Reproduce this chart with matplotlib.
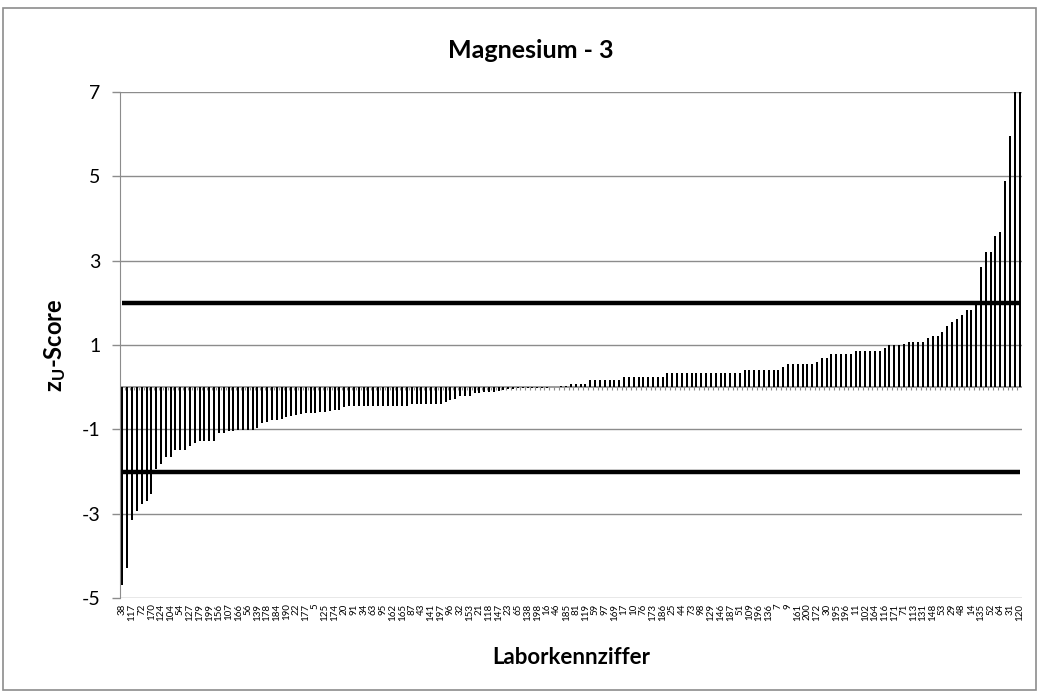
import numpy as np
import matplotlib
matplotlib.use("Agg")
import matplotlib.pyplot as plt
from matplotlib.patches import Rectangle

plt.rcParams['font.family'] = ['Lato', 'DejaVu Sans']
plt.rcParams['mathtext.fontset'] = 'custom'
plt.rcParams['mathtext.bf'] = 'Lato:bold'
plt.rcParams['mathtext.rm'] = 'Lato:bold'
plt.rcParams['mathtext.it'] = 'Lato:bold'
plt.rcParams['mathtext.default'] = 'bf'

# Laborkennziffern (nur jede zweite ist beschriftet)
shown_labels = [
    "38", "117", "72", "170", "124", "104", "54", "127", "179", "199",
    "156", "107", "166", "56", "139", "178", "184", "190", "22", "177",
    "5", "125", "174", "20", "91", "34", "63", "95", "162", "165",
    "87", "43", "141", "197", "96", "32", "153", "21", "118", "147",
    "23", "65", "138", "198", "16", "46", "185", "81", "119", "59",
    "97", "169", "17", "10", "76", "173", "186", "25", "44", "73",
    "98", "129", "146", "187", "51", "109", "196", "136", "7", "9",
    "161", "200", "172", "30", "195", "196", "11", "102", "164", "116",
    "171", "71", "113", "131", "148", "53", "29", "48", "14", "135",
    "52", "64", "31", "120",
]

# z_U-Scores, sortiert
z_scores = [
    -4.68, -4.29, -3.16, -2.93, -2.77, -2.69, -2.53, -1.95, -1.82, -1.65,
    -1.65, -1.50, -1.50, -1.48, -1.40, -1.32, -1.27, -1.27, -1.27, -1.27,
    -1.09, -1.09, -1.05, -1.04, -1.02, -1.02, -1.02, -1.01, -0.97, -0.85,
    -0.83, -0.79, -0.77, -0.75, -0.71, -0.69, -0.67, -0.63, -0.61, -0.61,
    -0.61, -0.59, -0.59, -0.57, -0.55, -0.53, -0.47, -0.45, -0.45, -0.45,
    -0.45, -0.45, -0.45, -0.45, -0.45, -0.45, -0.45, -0.45, -0.45, -0.45,
    -0.39, -0.39, -0.39, -0.39, -0.39, -0.39, -0.39, -0.34, -0.31, -0.28,
    -0.22, -0.22, -0.20, -0.15, -0.14, -0.12, -0.12, -0.12, -0.10, -0.06,
    -0.04, -0.04, -0.03, -0.03, -0.03, -0.02, -0.02, -0.02, -0.01, 0.01,
    0.01, 0.02, 0.02, 0.08, 0.08, 0.08, 0.08, 0.16, 0.16, 0.16,
    0.16, 0.16, 0.16, 0.16, 0.24, 0.24, 0.24, 0.24, 0.24, 0.24,
    0.24, 0.24, 0.24, 0.33, 0.33, 0.33, 0.33, 0.33, 0.33, 0.33,
    0.33, 0.33, 0.33, 0.33, 0.33, 0.33, 0.33, 0.33, 0.33, 0.40,
    0.40, 0.40, 0.40, 0.40, 0.40, 0.40, 0.40, 0.48, 0.55, 0.55,
    0.55, 0.55, 0.55, 0.55, 0.59, 0.70, 0.70, 0.78, 0.78, 0.78,
    0.78, 0.78, 0.85, 0.85, 0.85, 0.85, 0.85, 0.85, 0.92, 1.00,
    1.00, 1.00, 1.02, 1.07, 1.07, 1.07, 1.07, 1.16, 1.22, 1.22,
    1.30, 1.46, 1.54, 1.62, 1.70, 1.83, 1.83, 1.98, 2.84, 3.21,
    3.21, 3.59, 3.68, 4.89, 5.95, 7.50, 8.00,
]

upper_limit = 2
lower_limit = -2
y_ticks = [-5, -3, -1, 1, 3, 5, 7]

W, H = 1039, 693
fig = plt.figure(figsize=(W / 100, H / 100), dpi=100)
ax = fig.add_axes([120 / W, 1 - 598 / H, 902 / W, 506 / H])

grey = '#8c8c8c'
n = len(z_scores)
x = np.arange(n)

for y in y_ticks:
    ax.axhline(y, color=grey, lw=1.0, zorder=1)
ax.axhline(0, color=grey, lw=1.2, zorder=1)
# Kategorien-Teilstriche an der Nulllinie
ax.vlines(x[:-1] + 0.5, -0.06, 0, color=grey, lw=0.8, zorder=1)

ax.bar(x, z_scores, width=0.42, color='black', zorder=2)

ax.hlines([upper_limit, lower_limit], x[0], x[-1], color='black', lw=3.2, zorder=3)

ax.set_xlim(-0.5, n - 0.5)
ax.set_ylim(-5, 7)
ax.set_yticks(y_ticks)
ax.set_yticklabels([str(v) for v in y_ticks], fontsize=14)
ax.tick_params(axis='y', length=6, width=1, color=grey, pad=8)

ax.set_xticks(x[::2])
ax.set_xticklabels(shown_labels, rotation=90, fontsize=7)
ax.tick_params(axis='x', length=0, pad=4)

for side in ['top', 'right', 'bottom']:
    ax.spines[side].set_visible(False)
ax.spines['left'].set_color(grey)

fig.text(531 / W, 1 - 50 / H, 'Magnesium - 3', ha='center', va='center',
         fontsize=18, fontweight='bold')
fig.text(571 / W, 1 - 658 / H, 'Laborkennziffer', ha='center', va='center',
         fontsize=16, fontweight='bold')
fig.text(55 / W, 1 - 345 / H, '$z_U$-Score', ha='center', va='center',
         rotation=90, fontsize=17, fontweight='bold')

fig.patches.append(Rectangle((3 / W, 3 / H), 1033 / W, 682 / H, transform=fig.transFigure,
                             fill=False, edgecolor=grey, lw=1.2))

fig.savefig('out.png', dpi=100)
